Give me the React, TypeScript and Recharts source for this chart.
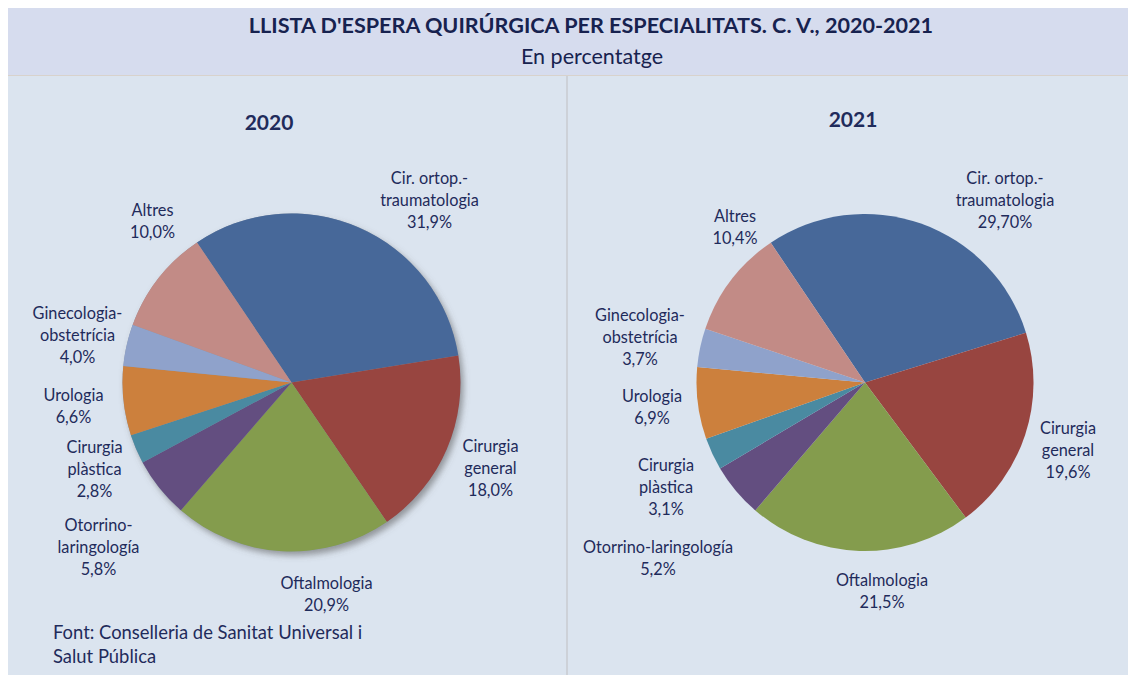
import { PieChart, Pie, Cell, Sector } from 'recharts';

// especialitats, en ordre horari des de Cir. ortop.
const names2020 = [
  'Cir. ortop.-\ntraumatologia',
  'Cirurgia\ngeneral',
  'Oftalmologia',
  'Otorrino-\nlaringología',
  'Cirurgia\nplàstica',
  'Urologia',
  'Ginecologia-\nobstetrícia',
  'Altres',
];
const values2020 = [31.9, 18.0, 20.9, 5.8, 2.8, 6.6, 4.0, 10.0];
const pct2020 = ['31,9%', '18,0%', '20,9%', '5,8%', '2,8%', '6,6%', '4,0%', '10,0%'];

const names2021 = [
  'Cir. ortop.-\ntraumatologia',
  'Cirurgia\ngeneral',
  'Oftalmologia',
  'Otorrino-laringología',
  'Cirurgia\nplàstica',
  'Urologia',
  'Ginecologia-\nobstetrícia',
  'Altres',
];
const values2021 = [29.7, 19.6, 21.5, 5.2, 3.1, 6.9, 3.7, 10.4];
const pct2021 = ['29,70%', '19,6%', '21,5%', '5,2%', '3,1%', '6,9%', '3,7%', '10,4%'];

const COLORS = ['#476899', '#984540', '#849c4d', '#634e80', '#4a8aa1', '#cc803d', '#8fa2cb', '#c28b86'];

// on va cada etiqueta respecte del centre del pastís
const offsets2020 = [[138, -182], [199, 86], [35, 212], [-193, 165], [-197, 87], [-218, 24], [-214, -47], [-139, -161]];
const offsets2021 = [[140, -182], [203, 68], [17, 209], [-207, 176], [-199, 105], [-213, 25], [-225, -45], [-130, -155]];

const TEXT = '#1f2b5b';
const FONT = 'Lato, "Open Sans", sans-serif';

const rows2020 = names2020.map((name, i) => ({ name, value: values2020[i], pct: pct2020[i] }));
const rows2021 = names2021.map((name, i) => ({ name, value: values2021[i], pct: pct2021[i] }));

function makeLabel(offsets: number[][]) {
  return (props: any) => {
    const { cx, cy, index, payload } = props;
    const row = payload?.payload ?? payload;
    const lines = [...String(row.name).split('\n'), row.pct];
    const [dx, dy] = offsets[index];
    const lh = 22;
    return (
      <g key={`lbl-${index}`}>
        {lines.map((t: string, i: number) => (
          <text
            key={i}
            x={cx + dx}
            y={cy + dy - 1 + (i - (lines.length - 1) / 2) * lh}
            textAnchor='middle'
            dominantBaseline='central'
            fill={TEXT}
            fontSize={16.3}
            fontFamily={FONT}
          >
            {t}
          </text>
        ))}
      </g>
    );
  };
}

export default function App() {
  return (
    <div style={{ position: 'relative', width: 1128, height: 667, fontFamily: FONT, color: TEXT }}>
      <svg width={0} height={0} style={{ position: 'absolute' }}>
        <defs>
          <filter id='pieShadow' x='-20%' y='-20%' width='140%' height='140%'>
            <feDropShadow dx={3} dy={4} stdDeviation={3} floodColor='#555' floodOpacity={0.55} />
          </filter>
        </defs>
      </svg>

      <div
        style={{
          position: 'absolute',
          left: 0,
          top: 0,
          width: 1128,
          height: 68,
          background: '#d6dcee',
          borderBottom: '1px solid #d8d2cc',
          boxSizing: 'border-box',
        }}
      >
        <div style={{ position: 'absolute', left: 0, width: 1166, top: 3, textAlign: 'center', fontWeight: 700, fontSize: 21.6, lineHeight: '28px', color: '#17224f' }}>
          LLISTA D'ESPERA QUIRÚRGICA PER ESPECIALITATS. C. V., 2020-2021
        </div>
        <div style={{ position: 'absolute', left: 0, width: 1168, top: 34, textAlign: 'center', fontSize: 21.5, lineHeight: '28px', color: '#17224f' }}>
          En percentatge
        </div>
      </div>

      <div style={{ position: 'absolute', left: 0, top: 68, width: 1128, height: 599, background: '#dbe4ef' }} />
      <div style={{ position: 'absolute', left: 558, top: 68, width: 2, height: 599, background: '#cdd1d8' }} />

      <div style={{ position: 'absolute', left: 211, top: 100, width: 100, textAlign: 'center', fontWeight: 700, fontSize: 21, lineHeight: '28px' }}>
        2020
      </div>
      <div style={{ position: 'absolute', left: 795, top: 97, width: 100, textAlign: 'center', fontWeight: 700, fontSize: 21, lineHeight: '28px' }}>
        2021
      </div>

      <div style={{ position: 'absolute', left: 0, top: 68 }}>
        <PieChart width={1128} height={599} margin={{ top: 0, right: 0, bottom: 0, left: 0 }}>
          {/* ombra del pastís 2020 */}
          <Pie
            data={[{ name: 'ombra', value: 1 }]}
            dataKey='value'
            cx={283.5}
            cy={306.5}
            outerRadius={169}
            stroke='none'
            fill='#8a96a8'
            isAnimationActive={false}
            shape={(p: any) => <Sector {...p} filter='url(#pieShadow)' />}
          />
          <Pie
            data={rows2020}
            dataKey='value'
            cx={283.5}
            cy={306.5}
            outerRadius={169}
            startAngle={124}
            endAngle={-236}
            stroke='none'
            labelLine={false}
            label={makeLabel(offsets2020)}
            isAnimationActive={false}
          >
            {rows2020.map((r, i) => (
              <Cell key={r.name} fill={COLORS[i]} />
            ))}
          </Pie>
          <Pie
            data={rows2021}
            dataKey='value'
            cx={857}
            cy={306.5}
            outerRadius={168.5}
            startAngle={124}
            endAngle={-236}
            stroke='none'
            labelLine={false}
            label={makeLabel(offsets2021)}
            isAnimationActive={false}
          >
            {rows2021.map((r, i) => (
              <Cell key={r.name} fill={COLORS[i]} />
            ))}
          </Pie>
        </PieChart>
      </div>

      <div style={{ position: 'absolute', left: 45, top: 612, fontSize: 18.4, lineHeight: '24px' }}>
        Font: Conselleria de Sanitat Universal i
        <br />
        Salut Pública
      </div>
    </div>
  );
}
